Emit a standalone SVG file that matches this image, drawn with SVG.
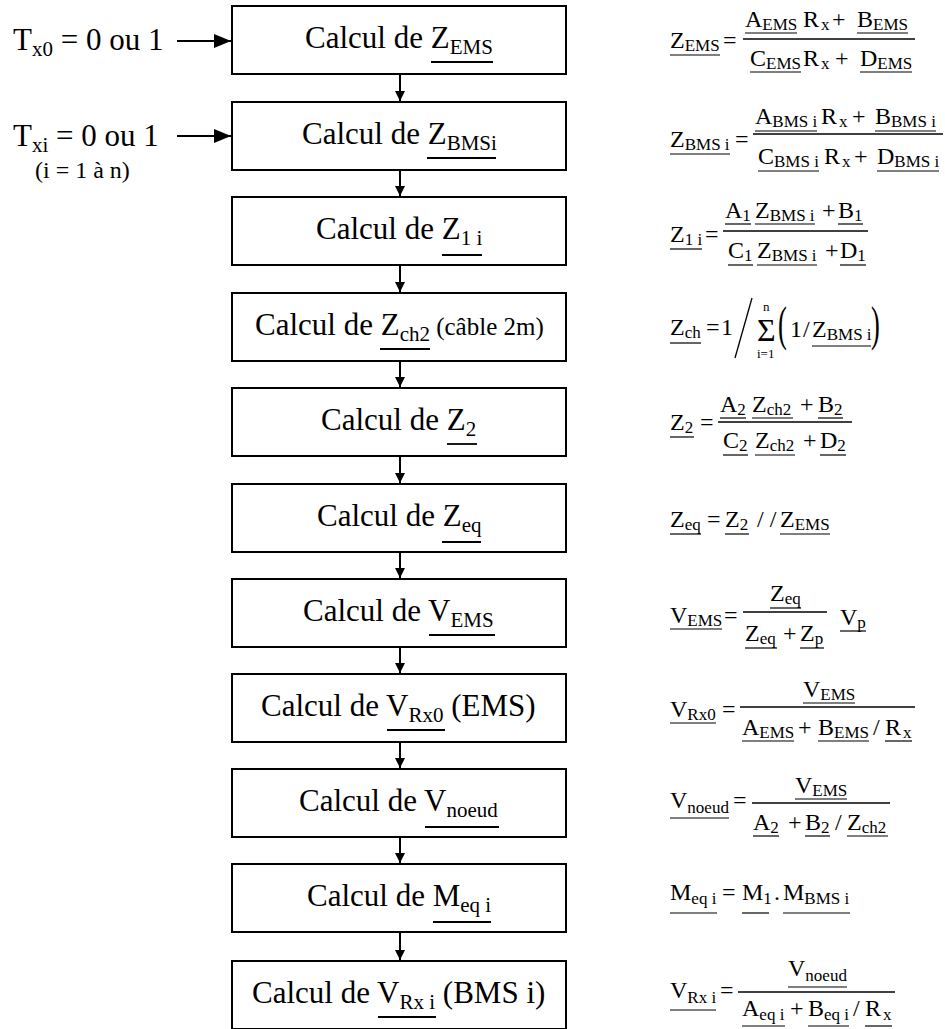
<svg xmlns="http://www.w3.org/2000/svg" width="945" height="1029" viewBox="0 0 945 1029" font-family="'Liberation Serif', Tinos, 'DejaVu Serif', serif">
<style>
text{font-family:'Liberation Serif',Tinos,'DejaVu Serif',serif;fill:#000}
.t{font-size:31px}
.s{font-size:21px}
.box{fill:#fff;stroke:#000;stroke-width:2}
.ul{stroke:#000;stroke-width:1.8}
.f{font-size:24px}
.fs{font-size:17px}
.fu{stroke:#000;stroke-width:1.2}
.bar{stroke:#000;stroke-width:1.3}
.con{stroke:#000;stroke-width:2;fill:none}
</style>
<defs>
<marker id="av" viewBox="0 0 10 10" refX="10" refY="5" markerWidth="10" markerHeight="10" markerUnits="userSpaceOnUse" orient="auto"><path d="M0,0 L10,5 L0,10 z" fill="#000"/></marker>
<marker id="ah" viewBox="0 0 17 14" refX="17" refY="7" markerWidth="17" markerHeight="14" markerUnits="userSpaceOnUse" orient="auto"><path d="M0,0 L17,7 L0,14 z" fill="#000"/></marker>
</defs>

<g id="inputs">
<text class="t" x="13" y="50">T<tspan class="s" dy="6">x0</tspan><tspan dy="-6"> = 0 ou 1</tspan></text>
<text class="t" x="13" y="146">T<tspan class="s" dy="6">xi</tspan><tspan dy="-6"> = 0 ou 1</tspan></text>
<text x="35" y="178" style="font-size:24px">(i = 1 à n)</text>
</g>

<g id="connectors">
<line class="con" x1="177" y1="41" x2="231" y2="41" marker-end="url(#ah)"/>
<line class="con" x1="177" y1="136" x2="231" y2="136" marker-end="url(#ah)"/>
<line class="con" x1="400" y1="75" x2="400" y2="101" marker-end="url(#av)"/>
<line class="con" x1="400" y1="171" x2="400" y2="196" marker-end="url(#av)"/>
<line class="con" x1="400" y1="266" x2="400" y2="292" marker-end="url(#av)"/>
<line class="con" x1="400" y1="362" x2="400" y2="387" marker-end="url(#av)"/>
<line class="con" x1="400" y1="457" x2="400" y2="483" marker-end="url(#av)"/>
<line class="con" x1="400" y1="553" x2="400" y2="578" marker-end="url(#av)"/>
<line class="con" x1="400" y1="648" x2="400" y2="673" marker-end="url(#av)"/>
<line class="con" x1="400" y1="743" x2="400" y2="768" marker-end="url(#av)"/>
<line class="con" x1="400" y1="838" x2="400" y2="863" marker-end="url(#av)"/>
<line class="con" x1="400" y1="933" x2="400" y2="960" marker-end="url(#av)"/>
</g>

<g id="n1"><rect class="box" x="232" y="6" width="334" height="68"/>
<text class="t" x="305" y="48">Calcul de Z<tspan class="s" dy="6">EMS</tspan></text>
<line class="ul" x1="431" y1="62" x2="493" y2="62"/></g>

<g id="n2"><rect class="box" x="232" y="102" width="334" height="68"/>
<text class="t" x="302" y="144">Calcul de Z<tspan class="s" dy="6">BMSi</tspan></text>
<line class="ul" x1="427" y1="158" x2="496" y2="158"/></g>

<g id="n3"><rect class="box" x="232" y="197" width="334" height="68"/>
<text class="t" x="316" y="239">Calcul de Z<tspan class="s" dy="6">1 i</tspan></text>
<line class="ul" x1="442" y1="255" x2="482" y2="255"/></g>

<g id="n4"><rect class="box" x="232" y="293" width="334" height="68"/>
<text class="t" x="255" y="335">Calcul de Z<tspan class="s" dy="6">ch2</tspan><tspan dy="-6" style="font-size:25px"> (câble 2m)</tspan></text>
<line class="ul" x1="380" y1="349" x2="430" y2="349"/></g>

<g id="n5"><rect class="box" x="232" y="388" width="334" height="68"/>
<text class="t" x="321" y="430">Calcul de Z<tspan class="s" dy="6">2</tspan></text>
<line class="ul" x1="447" y1="444" x2="477" y2="444"/></g>

<g id="n6"><rect class="box" x="232" y="484" width="334" height="68"/>
<text class="t" x="317" y="526">Calcul de Z<tspan class="s" dy="6">eq</tspan></text>
<line class="ul" x1="442" y1="542" x2="481" y2="542"/></g>

<g id="n7"><rect class="box" x="232" y="579" width="334" height="68"/>
<text class="t" x="303" y="621">Calcul de V<tspan class="s" dy="6">EMS</tspan></text>
<line class="ul" x1="429" y1="635" x2="495" y2="635"/></g>

<g id="n8"><rect class="box" x="232" y="674" width="334" height="68"/>
<text class="t" x="261" y="716">Calcul de V<tspan class="s" dy="6">Rx0</tspan><tspan dy="-6"> (EMS)</tspan></text>
<line class="ul" x1="387" y1="730" x2="445" y2="730"/></g>

<g id="n9"><rect class="box" x="232" y="769" width="334" height="68"/>
<text class="t" x="299" y="811">Calcul de V<tspan class="s" dy="6">noeud</tspan></text>
<line class="ul" x1="425" y1="827" x2="499" y2="827"/></g>

<g id="n10"><rect class="box" x="232" y="864" width="334" height="68"/>
<text class="t" x="307" y="906">Calcul de M<tspan class="s" dy="6">eq i</tspan></text>
<line class="ul" x1="433" y1="922" x2="491" y2="922"/></g>

<g id="n11"><rect class="box" x="232" y="961" width="334" height="68"/>
<text class="t" x="252" y="1003">Calcul de V<tspan class="s" dy="6">Rx i</tspan><tspan dy="-6"> (BMS i)</tspan></text>
<line class="ul" x1="378" y1="1017" x2="436" y2="1017"/></g>

<g id="formulas">
<text class="f" x="670" y="48">Z<tspan class="fs" dy="3">EMS</tspan></text>
<line class="fu" x1="670" y1="55" x2="720" y2="55"/>
<text class="f" x="723" y="48">=</text>
<line class="bar" x1="743" y1="39" x2="915" y2="39"/>
<text class="f" x="745" y="27">A<tspan class="fs" dy="3">EMS</tspan></text>
<line class="fu" x1="745" y1="33" x2="797" y2="33"/>
<text class="f" x="803" y="27">R<tspan class="fs" dy="3" dx="2">x</tspan></text>
<text class="f" x="832" y="27">+</text>
<text class="f" x="857" y="27">B<tspan class="fs" dy="3">EMS</tspan></text>
<line class="fu" x1="857" y1="33" x2="908" y2="33"/>
<text class="f" x="750" y="66">C<tspan class="fs" dy="3">EMS</tspan></text>
<line class="fu" x1="750" y1="72" x2="801" y2="72"/>
<text class="f" x="803" y="66">R<tspan class="fs" dy="3" dx="2">x</tspan></text>
<text class="f" x="835" y="66">+</text>
<text class="f" x="860" y="66">D<tspan class="fs" dy="3">EMS</tspan></text>
<line class="fu" x1="860" y1="72" x2="912" y2="72"/>

<text class="f" x="670" y="147">Z<tspan class="fs" dy="3">BMS i</tspan></text>
<line class="fu" x1="670" y1="154" x2="730" y2="154"/>
<text class="f" x="735" y="147">=</text>
<line class="bar" x1="753" y1="134" x2="943" y2="134"/>
<text class="f" x="755" y="124">A<tspan class="fs" dy="3">BMS i</tspan></text>
<line class="fu" x1="755" y1="131" x2="817" y2="131"/>
<text class="f" x="821" y="124">R<tspan class="fs" dy="3" dx="2">x</tspan></text>
<text class="f" x="852" y="124">+</text>
<text class="f" x="875" y="124">B<tspan class="fs" dy="3">BMS i</tspan></text>
<line class="fu" x1="875" y1="131" x2="936" y2="131"/>
<text class="f" x="758" y="164">C<tspan class="fs" dy="3">BMS i</tspan></text>
<line class="fu" x1="758" y1="171" x2="819" y2="171"/>
<text class="f" x="824" y="164">R<tspan class="fs" dy="3" dx="2">x</tspan></text>
<text class="f" x="854" y="164">+</text>
<text class="f" x="877" y="164">D<tspan class="fs" dy="3">BMS i</tspan></text>
<line class="fu" x1="877" y1="171" x2="939" y2="171"/>

<text class="f" x="670" y="242">Z<tspan class="fs" dy="3">1 i</tspan></text>
<line class="fu" x1="670" y1="249" x2="702" y2="249"/>
<text class="f" x="705" y="242">=</text>
<line class="bar" x1="723" y1="231" x2="868" y2="231"/>
<text class="f" x="725" y="218">A<tspan class="fs" dy="3">1</tspan></text>
<line class="fu" x1="725" y1="224" x2="751" y2="224"/>
<text class="f" x="755" y="218">Z<tspan class="fs" dy="3">BMS i</tspan></text>
<line class="fu" x1="755" y1="224" x2="815" y2="224"/>
<text class="f" x="822" y="218">+</text>
<text class="f" x="838" y="218">B<tspan class="fs" dy="3">1</tspan></text>
<line class="fu" x1="838" y1="224" x2="863" y2="224"/>
<text class="f" x="728" y="258">C<tspan class="fs" dy="3">1</tspan></text>
<line class="fu" x1="728" y1="265" x2="753" y2="265"/>
<text class="f" x="757" y="258">Z<tspan class="fs" dy="3">BMS i</tspan></text>
<line class="fu" x1="757" y1="265" x2="817" y2="265"/>
<text class="f" x="825" y="258">+</text>
<text class="f" x="840" y="258">D<tspan class="fs" dy="3">1</tspan></text>
<line class="fu" x1="840" y1="265" x2="866" y2="265"/>

<text class="f" x="670" y="335">Z<tspan class="fs" dy="3">ch</tspan></text>
<line class="fu" x1="670" y1="343" x2="701" y2="343"/>
<text class="f" x="706" y="335">=</text>
<text class="f" x="721" y="335">1</text>
<line class="bar" x1="735" y1="358" x2="752" y2="298"/>
<text x="757" y="341" style="font-size:32px">Σ</text>
<text x="763" y="311" style="font-size:13px">n</text>
<text x="757" y="358" style="font-size:13px">i=1</text>
<text transform="translate(778,339.5) scale(0.55,1)" style="font-size:48px">(</text>
<text class="f" x="790" y="337">1</text>
<text class="f" x="803" y="337">/</text>
<text class="f" x="812" y="337">Z<tspan class="fs" dy="3">BMS i</tspan></text>
<line class="fu" x1="812" y1="346" x2="871" y2="346"/>
<text transform="translate(871,339.5) scale(0.55,1)" style="font-size:48px">)</text>

<text class="f" x="670" y="430">Z<tspan class="fs" dy="3">2</tspan></text>
<line class="fu" x1="670" y1="437" x2="694" y2="437"/>
<text class="f" x="700" y="430">=</text>
<line class="bar" x1="718" y1="422" x2="852" y2="422"/>
<text class="f" x="720" y="412">A<tspan class="fs" dy="3">2</tspan></text>
<line class="fu" x1="720" y1="418" x2="746" y2="418"/>
<text class="f" x="752" y="412">Z<tspan class="fs" dy="3">ch2</tspan></text>
<line class="fu" x1="752" y1="418" x2="793" y2="418"/>
<text class="f" x="800" y="412">+</text>
<text class="f" x="818" y="412">B<tspan class="fs" dy="3">2</tspan></text>
<line class="fu" x1="818" y1="418" x2="843" y2="418"/>
<text class="f" x="723" y="448">C<tspan class="fs" dy="3">2</tspan></text>
<line class="fu" x1="723" y1="455" x2="748" y2="455"/>
<text class="f" x="755" y="448">Z<tspan class="fs" dy="3">ch2</tspan></text>
<line class="fu" x1="755" y1="455" x2="795" y2="455"/>
<text class="f" x="803" y="448">+</text>
<text class="f" x="820" y="448">D<tspan class="fs" dy="3">2</tspan></text>
<line class="fu" x1="820" y1="455" x2="846" y2="455"/>

<text class="f" x="670" y="527">Z<tspan class="fs" dy="3">eq</tspan></text>
<line class="fu" x1="670" y1="534" x2="701" y2="534"/>
<text class="f" x="707" y="527">=</text>
<text class="f" x="725" y="527">Z<tspan class="fs" dy="3">2</tspan></text>
<line class="fu" x1="725" y1="534" x2="749" y2="534"/>
<text class="f" x="757" y="527">/ /</text>
<text class="f" x="780" y="527">Z<tspan class="fs" dy="3">EMS</tspan></text>
<line class="fu" x1="780" y1="534" x2="830" y2="534"/>

<text class="f" x="670" y="623">V<tspan class="fs" dy="3">EMS</tspan></text>
<line class="fu" x1="670" y1="629" x2="722" y2="629"/>
<text class="f" x="724" y="623">=</text>
<line class="bar" x1="743" y1="612" x2="827" y2="612"/>
<text class="f" x="770" y="601">Z<tspan class="fs" dy="3">eq</tspan></text>
<line class="fu" x1="770" y1="608" x2="801" y2="608"/>
<text class="f" x="745" y="641">Z<tspan class="fs" dy="3">eq</tspan></text>
<line class="fu" x1="745" y1="648" x2="777" y2="648"/>
<text class="f" x="783" y="641">+</text>
<text class="f" x="800" y="641">Z<tspan class="fs" dy="3">p</tspan></text>
<line class="fu" x1="800" y1="648" x2="824" y2="648"/>
<text class="f" x="840" y="625">V<tspan class="fs" dy="3">p</tspan></text>
<line class="fu" x1="840" y1="631" x2="866" y2="631"/>

<text class="f" x="670" y="717">V<tspan class="fs" dy="3">Rx0</tspan></text>
<line class="fu" x1="670" y1="723" x2="716" y2="723"/>
<text class="f" x="722" y="717">=</text>
<line class="bar" x1="740" y1="707" x2="915" y2="707"/>
<text class="f" x="803" y="697">V<tspan class="fs" dy="3">EMS</tspan></text>
<line class="fu" x1="803" y1="703" x2="855" y2="703"/>
<text class="f" x="742" y="735">A<tspan class="fs" dy="3">EMS</tspan></text>
<line class="fu" x1="742" y1="741" x2="794" y2="741"/>
<text class="f" x="798" y="735">+</text>
<text class="f" x="818" y="735">B<tspan class="fs" dy="3">EMS</tspan></text>
<line class="fu" x1="818" y1="741" x2="869" y2="741"/>
<text class="f" x="873" y="735">/</text>
<text class="f" x="885" y="735">R<tspan class="fs" dy="3" dx="2">x</tspan></text>
<line class="fu" x1="885" y1="741" x2="912" y2="741"/>

<text class="f" x="670" y="808">V<tspan class="fs" dy="5">noeud</tspan></text>
<line class="fu" x1="670" y1="818" x2="729" y2="818"/>
<text class="f" x="733" y="808">=</text>
<line class="bar" x1="752" y1="803" x2="890" y2="803"/>
<text class="f" x="795" y="793">V<tspan class="fs" dy="3">EMS</tspan></text>
<line class="fu" x1="795" y1="799" x2="847" y2="799"/>
<text class="f" x="753" y="830">A<tspan class="fs" dy="3">2</tspan></text>
<line class="fu" x1="753" y1="836" x2="779" y2="836"/>
<text class="f" x="788" y="830">+</text>
<text class="f" x="805" y="830">B<tspan class="fs" dy="3">2</tspan></text>
<line class="fu" x1="805" y1="836" x2="830" y2="836"/>
<text class="f" x="835" y="830">/</text>
<text class="f" x="847" y="830">Z<tspan class="fs" dy="3">ch2</tspan></text>
<line class="fu" x1="847" y1="836" x2="888" y2="836"/>

<text class="f" x="670" y="900">M<tspan class="fs" dy="4">eq i</tspan></text>
<line class="fu" x1="670" y1="913" x2="717" y2="913"/>
<text class="f" x="722" y="900">=</text>
<text class="f" x="742" y="900">M<tspan class="fs" dy="4">1</tspan></text>
<line class="fu" x1="742" y1="913" x2="769" y2="913"/>
<text class="f" x="774" y="900">.</text>
<text class="f" x="783" y="900">M<tspan class="fs" dy="4">BMS i</tspan></text>
<line class="fu" x1="783" y1="913" x2="850" y2="913"/>

<text class="f" x="670" y="998">V<tspan class="fs" dy="5">Rx i</tspan></text>
<line class="fu" x1="670" y1="1010" x2="716" y2="1010"/>
<text class="f" x="720" y="998">=</text>
<line class="bar" x1="738" y1="992" x2="895" y2="992"/>
<text class="f" x="788" y="976">V<tspan class="fs" dy="5">noeud</tspan></text>
<line class="fu" x1="788" y1="987" x2="847" y2="987"/>
<text class="f" x="742" y="1016">A<tspan class="fs" dy="4">eq i</tspan></text>
<line class="fu" x1="742" y1="1026" x2="785" y2="1026"/>
<text class="f" x="790" y="1016">+</text>
<text class="f" x="808" y="1016">B<tspan class="fs" dy="4">eq i</tspan></text>
<line class="fu" x1="808" y1="1026" x2="849" y2="1026"/>
<text class="f" x="853" y="1016">/</text>
<text class="f" x="865" y="1016">R<tspan class="fs" dy="4" dx="2">x</tspan></text>
<line class="fu" x1="865" y1="1026" x2="892" y2="1026"/>
</g>
</svg>
